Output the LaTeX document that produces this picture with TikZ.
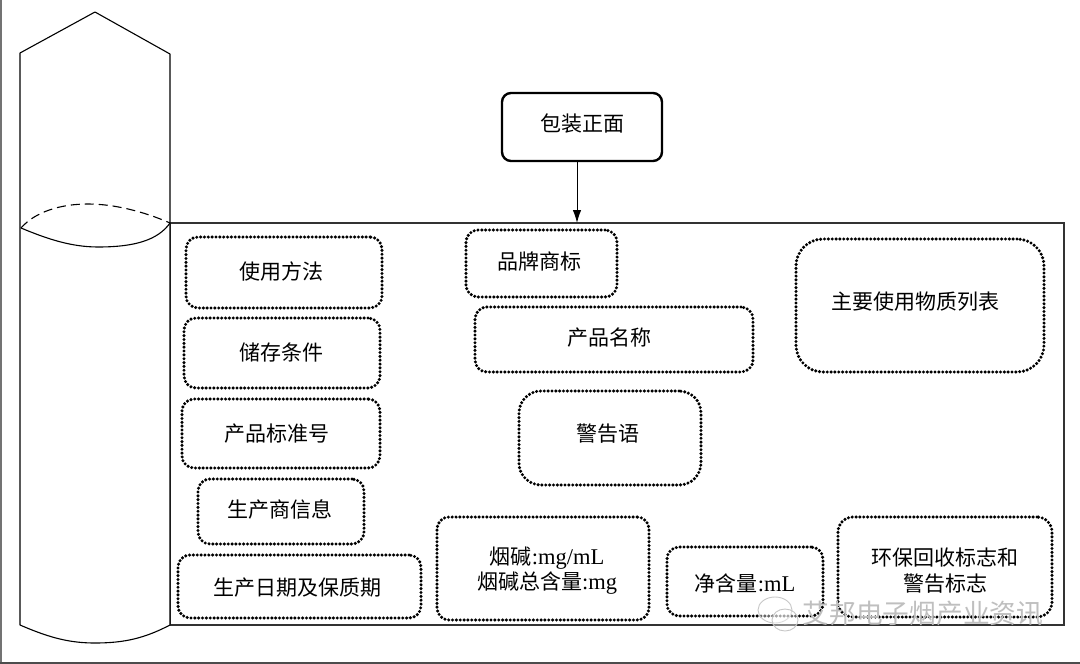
\documentclass[tikz,border=0pt]{standalone}
\usepackage{fontspec}
\usetikzlibrary{arrows.meta}
\setmainfont{Liberation Serif}
\newfontfamily\cjk{Noto Sans CJK SC}
\newcommand{\zh}[1]{{\cjk #1}}
\newcommand{\lat}[1]{{\fontsize{22.5pt}{25pt}\selectfont #1}}
% text line placed dx to the right of and dy above the node centre
\newcommand{\tline}[3]{\raisebox{\dimexpr#2pt-1pt\relax}[.85em][.15em]{\makebox[0pt][c]{\hspace*{\dimexpr#1pt*2\relax}#3}}}
\tikzset{
  px/.style={x=1pt,y=-1pt},
  outline/.style={draw=black,line width=1.1pt,line join=round},
  dotbox/.style={draw=black,line width=3.4pt,dash pattern=on 0pt off 3.85pt,line cap=round,rounded corners=12pt,inner sep=0pt,font=\fontsize{21pt}{25pt}\selectfont,align=center},
  packbox/.style={draw=black,line width=2.4pt,rounded corners=9pt,inner sep=0pt,font=\fontsize{21pt}{25pt}\selectfont},
  panel/.style={draw=black!80,line width=1.2pt,inner sep=0pt},
  frameline/.style={draw=black!55,line width=2pt}
}
\newcommand{\boxat}[7][]{\node[dotbox,minimum width=#5pt,minimum height=#6pt,#1] (#2) at (#3,#4) {#7};}
\begin{document}
\begin{tikzpicture}[px]
\useasboundingbox (0,0) rectangle (1080,664);
\fill[white] (0,0) rectangle (1080,664);
\draw[frameline] (1,0) -- (1,664);
\draw[draw=black!70,line width=2pt] (0,663) -- (1080,663);
% panel
\node[panel,minimum width=894pt,minimum height=402pt] (main) at (617,424) {};
% cylinder
\coordinate (cylA) at (20,53);
\coordinate (cylTop) at (95,12);
\coordinate (cylB) at (170,54);
\coordinate (cylC) at (170,625);
\coordinate (cylD) at (20,625);
\coordinate (ringL) at (21,228);
\coordinate (ringR) at (170,223);
\draw[outline,fill=white] (cylA) -- (cylTop) -- (cylB) -- (cylC)
  .. controls (145,638) and (125,643) .. (95,643)
  .. controls (70,643) and (50,638) .. (cylD) -- cycle;
\draw[outline] (ringL) .. controls (45,238) and (70,247) .. (98,247)
  .. controls (135,247) and (158,240) .. (ringR);
\draw[outline,dash pattern=on 9pt off 5pt] (ringL) .. controls (35,212) and (60,204) .. (88,204)
  .. controls (115,204) and (145,212) .. (ringR);
% package front
\node[packbox,minimum width=160pt,minimum height=68pt] (pack) at (582,127) {\tline{0}{4}{\zh{包装正面}}};
\coordinate (arrowEnd) at (577,223);
\draw[-{Latex[length=13pt,width=8.5pt]},line width=1pt,black] (pack.south -| arrowEnd) -- (arrowEnd);
% dotted boxes
\boxat{use}{284}{272.5}{196}{71}{\tline{-3}{1.5}{\zh{使用方法}}}
\boxat{store}{282}{353}{196}{70}{\tline{-1}{1}{\zh{储存条件}}}
\boxat{std}{281}{433.5}{198}{69}{\tline{-4}{0.5}{\zh{产品标准号}}}
\boxat{maker}{281}{511.5}{166}{65}{\tline{-1}{2.5}{\zh{生产商信息}}}
\boxat{date}{299.5}{586.5}{243}{63}{\tline{-2.5}{-0.5}{\zh{生产日期及保质期}}}
\boxat{brand}{541.5}{263.5}{151}{67}{\tline{-2.5}{2.5}{\zh{品牌商标}}}
\boxat{name}{614}{339.5}{278}{65}{\tline{-5}{2.5}{\zh{产品名称}}}
\boxat[rounded corners=22pt]{warn}{610}{438}{182}{94}{\tline{-2}{5}{\zh{警告语}}}
\boxat[rounded corners=27pt]{list}{920}{305.5}{248}{133}{\tline{-5}{4.5}{\zh{主要使用物质列表}}}
\boxat{nic}{543}{568.5}{212}{103}{\tline{4}{0}{\zh{烟碱}\lat{:mg/mL}}\\\tline{4}{0}{\zh{烟碱总含量}\lat{:mg}}}
\boxat{vol}{745}{581.5}{156}{69}{\tline{0}{-1.5}{\zh{净含量}\lat{:mL}}}
\boxat[rounded corners=15pt]{eco}{945}{567}{214}{100}{\tline{0}{-3}{\zh{环保回收标志和}}\\[1pt]\tline{0}{-3}{\zh{警告标志}}}
% watermark
\draw[black!22,line width=0.9pt,fill=white,fill opacity=0.4] (775,610) ellipse (17pt and 13pt);
\draw[black!22,line width=0.9pt,fill=white,fill opacity=0.4] (785,620) ellipse (13pt and 11pt);
\node[text=black!25,font=\fontsize{26.7pt}{30pt}\selectfont,inner sep=0pt] (wm) at (923,614) {\zh{艾邦电子烟产业资讯}};
\end{tikzpicture}
\end{document}
